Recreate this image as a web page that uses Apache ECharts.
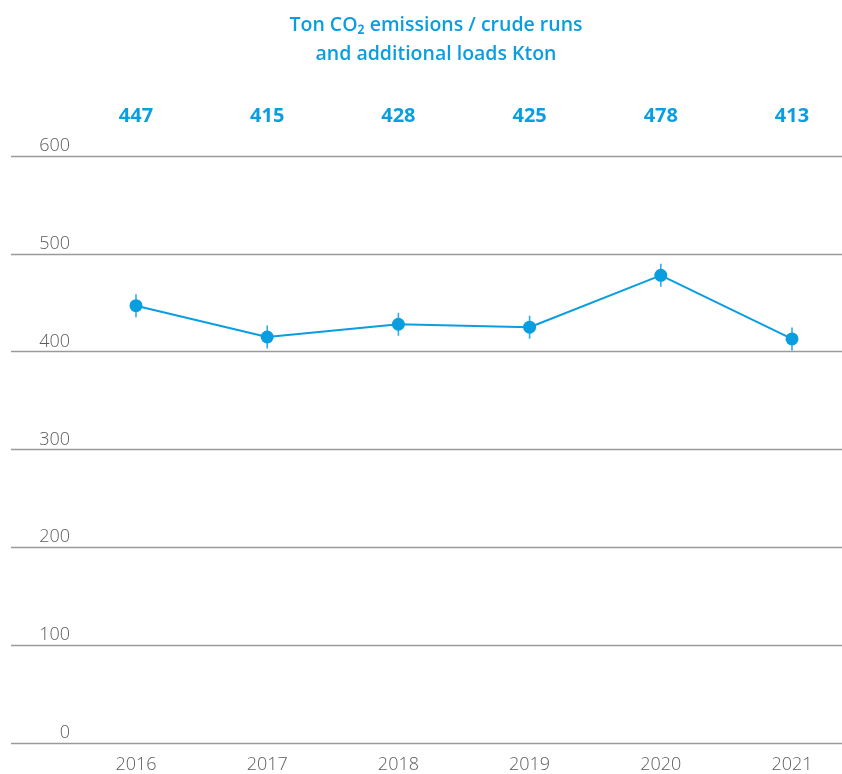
<!DOCTYPE html>
<html>
<head>
<meta charset="utf-8">
<script src="https://cdn.jsdelivr.net/npm/echarts@6/dist/echarts.min.js"></script>
<style>
  html, body { margin: 0; padding: 0; background: #fff; }
  #chart { width: 842px; height: 774px; }
</style>
</head>
<body>
<div id="chart"></div>
<script>
// Yearly CO2 intensity: tonnes of CO2 per kton of crude runs and additional loads
const years = ['2016', '2017', '2018', '2019', '2020', '2021'];
const emissions = [447, 415, 428, 425, 478, 413];
const yTicks = [0, 100, 200, 300, 400, 500, 600];

const BLUE = '#0a9ee0';
const GREY_TEXT = '#5c5c5c';
const GRID_LINE = '#9a9a9a';
const FONT = "'Open Sans', 'Noto Sans', sans-serif";

const yMin = yTicks[0];
const yMax = yTicks[yTicks.length - 1];
const yStep = yTicks[1] - yTicks[0];

const chart = echarts.init(document.getElementById('chart'), null, { renderer: 'canvas' });

chart.setOption({
  animation: false,
  backgroundColor: '#ffffff',
  title: {
    text: 'Ton CO₂ emissions / crude runs\nand additional loads Kton',
    left: 431,
    top: 6,
    textAlign: 'center',
    textStyle: {
      color: BLUE,
      fontFamily: FONT,
      fontSize: 19.5,
      fontWeight: 600,
      lineHeight: 29
    }
  },
  grid: [
    // full-width grid carrying the horizontal rules and the value labels
    { left: 11, right: 0, top: 156, bottom: 31, outerBoundsMode: 'none' },
    // plotting grid aligned with the year columns (runs slightly past the right edge)
    { left: 70.4, width: 787.2, top: 156, bottom: 31, outerBoundsMode: 'none' }
  ],
  xAxis: [
    { gridIndex: 0, type: 'value', show: false, min: 0, max: 1 },
    {
      gridIndex: 1,
      type: 'category',
      data: years,
      position: 'bottom',
      axisLine: { show: false },
      axisTick: { show: false },
      axisLabel: {
        color: GREY_TEXT,
        fontFamily: FONT,
        fontSize: 18,
        fontWeight: 300,
        margin: 13
      }
    },
    {
      gridIndex: 1,
      type: 'category',
      data: years,
      position: 'top',
      axisLine: { show: false },
      axisTick: { show: false },
      axisLabel: {
        color: BLUE,
        fontFamily: FONT,
        fontSize: 20,
        fontWeight: 700,
        margin: 30,
        formatter: (v, i) => String(emissions[i])
      }
    }
  ],
  yAxis: [
    {
      gridIndex: 0,
      type: 'value',
      min: yMin,
      max: yMax,
      interval: yStep,
      axisLine: { show: false },
      axisTick: { show: false },
      splitLine: { show: true, lineStyle: { color: GRID_LINE, width: 1.3 } },
      axisLabel: {
        inside: true,
        margin: 59,
        align: 'right',
        verticalAlign: 'bottom',
        padding: [0, 0, 1, 0],
        color: GREY_TEXT,
        fontFamily: FONT,
        fontSize: 18,
        fontWeight: 300
      }
    },
    {
      gridIndex: 1,
      type: 'value',
      min: yMin,
      max: yMax,
      interval: yStep,
      show: false,
      splitLine: { show: false }
    }
  ],
  series: [
    {
      // thin vertical whiskers behind each marker
      type: 'scatter',
      xAxisIndex: 1,
      yAxisIndex: 1,
      data: emissions,
      symbol: 'rect',
      symbolSize: [1.6, 23],
      itemStyle: { color: BLUE, opacity: 0.85 },
      z: 2,
      silent: true
    },
    {
      type: 'line',
      xAxisIndex: 1,
      yAxisIndex: 1,
      data: emissions,
      symbol: 'circle',
      symbolSize: 13,
      showSymbol: true,
      lineStyle: { color: BLUE, width: 2 },
      itemStyle: { color: BLUE },
      z: 3
    }
  ]
});
</script>
</body>
</html>
